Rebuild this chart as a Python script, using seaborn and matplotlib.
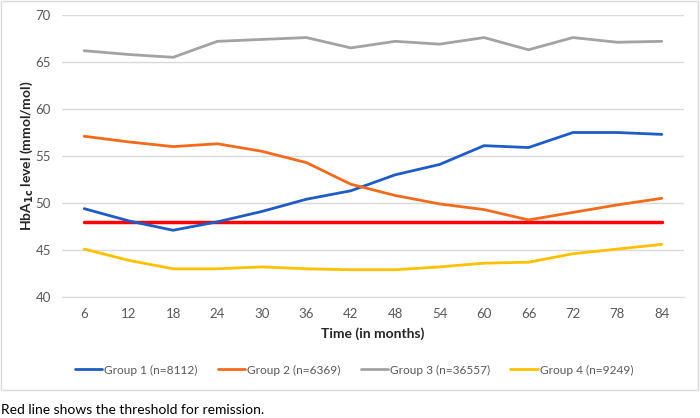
import numpy as np
import pandas as pd
import matplotlib
matplotlib.use("Agg")
import matplotlib.pyplot as plt
import seaborn as sns
from matplotlib.patches import Rectangle

months = [6, 12, 18, 24, 30, 36, 42, 48, 54, 60, 66, 72, 78, 84]
group1 = [49.4, 48.1, 47.1, 48.0, 49.1, 50.4, 51.3, 53.0, 54.1, 56.1, 55.9, 57.5, 57.5, 57.3]
group2 = [57.1, 56.5, 56.0, 56.3, 55.5, 54.3, 52.0, 50.8, 49.9, 49.3, 48.2, 49.0, 49.8, 50.5]
group3 = [66.2, 65.8, 65.5, 67.2, 67.4, 67.6, 66.5, 67.2, 66.9, 67.6, 66.3, 67.6, 67.1, 67.2]
group4 = [45.1, 43.9, 43.0, 43.0, 43.2, 43.0, 42.9, 42.9, 43.2, 43.6, 43.7, 44.6, 45.1, 45.6]
threshold = 48
names = ["Group 1 (n=8112)", "Group 2 (n=6369)", "Group 3 (n=36557)", "Group 4 (n=9249)"]
colors = ["#1F5CC5", "#F26B1D", "#A3A3A3", "#FFC000"]

df = pd.DataFrame({"month": months * 4,
                   "value": group1 + group2 + group3 + group4,
                   "group": np.repeat(names, len(months))})

sns.set_style("white")
plt.rcParams["font.family"] = ["Lato", "DejaVu Sans"]

fig = plt.figure(figsize=(7, 4.18), dpi=100)
ax = fig.add_axes([62 / 700, 1 - 297 / 418, (684 - 62) / 700, (297 - 15) / 418])

# chart border
fig.add_artist(Rectangle((1 / 700, 1 - 390 / 418), 697 / 700, 389 / 418,
                         transform=fig.transFigure, fill=False,
                         edgecolor="#D9D9D9", linewidth=1))

ax.plot(months, [threshold] * len(months), color="#FF0000", linewidth=2.5, zorder=3)
sns.lineplot(data=df, x="month", y="value", hue="group", palette=colors,
             linewidth=2, ax=ax, zorder=4)

ax.set_xlim(months[0] - 3, months[-1] + 3)
ax.set_ylim(40, 70)
ax.set_xticks(months)
ax.set_yticks(range(40, 71, 5))
ax.grid(axis="y", color="#D9D9D9", linewidth=1)
ax.set_axisbelow(True)
for s in ["top", "right", "left"]:
    ax.spines[s].set_visible(False)
ax.spines["bottom"].set_color("#D9D9D9")
ax.tick_params(axis="both", length=0, labelsize=9.5, labelcolor="#595959", pad=8)

ax.set_xlabel("Time (in months)", fontsize=10, fontweight="bold", labelpad=5)
ax.set_ylabel(r"HbA$_\mathbf{1c}$ level (mmol/mol)", fontsize=10, fontweight="bold", labelpad=0)

handles, labels = ax.get_legend_handles_labels()
ax.legend(handles, labels, loc="center", bbox_to_anchor=(354 / 700, (418 - 370) / 418),
          bbox_transform=fig.transFigure, ncol=4, frameon=False, fontsize=8.6,
          handlelength=2.3, handletextpad=0.15, columnspacing=1.7,
          labelcolor="#595959")

fig.text(1 / 700, 1 - 410 / 418, "Red line shows the threshold for remission.",
         fontsize=10, va="center", ha="left", color="black")

fig.savefig("out.png", dpi=100)
